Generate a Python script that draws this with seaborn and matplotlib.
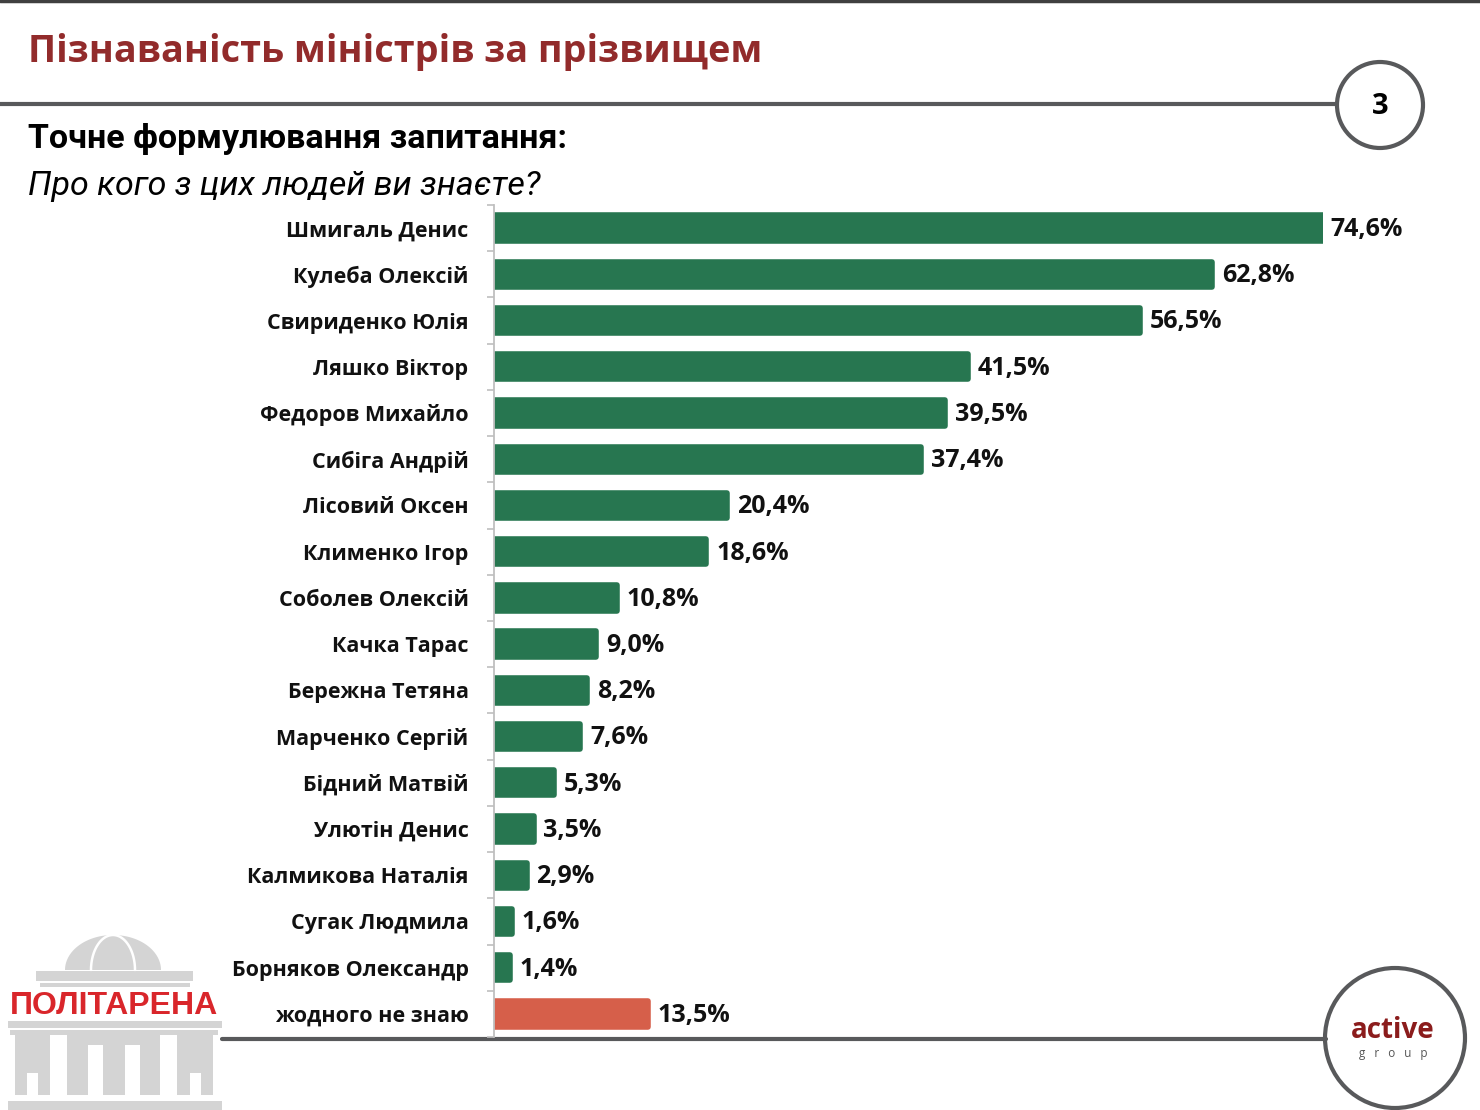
import pandas as pd
import numpy as np
import matplotlib
matplotlib.use("Agg")
import matplotlib.pyplot as plt
import seaborn as sns
from matplotlib.patches import Rectangle, Circle, Polygon

names = [
    "Шмигаль Денис", "Кулеба Олексій", "Свириденко Юлія", "Ляшко Віктор",
    "Федоров Михайло", "Сибіга Андрій", "Лісовий Оксен", "Клименко Ігор",
    "Соболев Олексій", "Качка Тарас", "Бережна Тетяна", "Марченко Сергій",
    "Бідний Матвій", "Улютін Денис", "Калмикова Наталія", "Сугак Людмила",
    "Борняков Олександр", "жодного не знаю",
]
values = [74.6, 62.8, 56.5, 41.5, 39.5, 37.4, 20.4, 18.6, 10.8, 9.0,
          8.2, 7.6, 5.3, 3.5, 2.9, 1.6, 1.4, 13.5]
value_labels = ["74,6%", "62,8%", "56,5%", "41,5%", "39,5%", "37,4%", "20,4%",
                "18,6%", "10,8%", "9,0%", "8,2%", "7,6%", "5,3%", "3,5%",
                "2,9%", "1,6%", "1,4%", "13,5%"]

title = "Пізнаваність міністрів за прізвищем"
question_head = "Точне формулювання запитання:"
question_text = "Про кого з цих людей ви знаєте?"
page_no = "3"

GREEN = "#277650"
RED = "#D65F4A"
DARK = "#58595b"
XMAX = 72.5

sns.set_style("white")
plt.rcParams["font.family"] = ["Open Sans", "DejaVu Sans"]

df = pd.DataFrame({"name": names, "value": values})
colors = [GREEN] * (len(names) - 1) + [RED]

W, H = 1480, 1110
fig = plt.figure(figsize=(W / 100, H / 100), dpi=100)

# decoration layer in pixel coordinates
deco = fig.add_axes([0, 0, 1, 1], zorder=0)
deco.set_xlim(0, W)
deco.set_ylim(H, 0)
deco.axis("off")

ax = fig.add_axes([493.5 / W, 1 - 1037 / H, (1323 - 493.5) / W, (1037 - 205) / H], zorder=2)
ax.patch.set_alpha(0)

sns.barplot(data=df, y="name", x="value", hue="name", palette=colors,
            legend=False, orient="h", width=0.55, saturation=1, ax=ax)
for p, c in zip(ax.patches, colors):
    p.set_edgecolor(c)
    p.set_linewidth(4)
    p.set_joinstyle("round")

ax.set_xlim(0, XMAX)
ax.set_ylim(len(names) - 0.5, -0.5)
ax.set_xlabel("")
ax.set_ylabel("")
ax.set_xticks([])
for s in ["top", "right", "bottom"]:
    ax.spines[s].set_visible(False)
ax.spines["left"].set_color("#bfbfbf")
ax.spines["left"].set_linewidth(1.3)

ax.set_yticks(np.arange(len(names) + 1) - 0.5, minor=True)
ax.tick_params(axis="y", which="minor", length=5, width=1.2, color="#bfbfbf", left=True)
ax.tick_params(axis="y", which="major", length=0, pad=18)
for lab in ax.get_yticklabels():
    lab.set_fontsize(15.5)
    lab.set_fontweight("bold")
    lab.set_color("#111111")

for i, (v, t) in enumerate(zip(values, value_labels)):
    ax.annotate(t, (min(v, XMAX), i), xytext=(5 if v > XMAX else 7, -1),
                textcoords="offset points", va="center", ha="left",
                fontsize=18, fontweight="bold", color="#111111", clip_on=False)

# header
deco.plot([0, W], [1, 1], color="#404040", lw=2.5)
deco.text(28, 52, title, fontsize=27.2, fontweight="bold", color="#922B2B",
          va="center", ha="left")
deco.plot([0, 1337], [104, 104], color=DARK, lw=3)
deco.add_patch(Circle((1380, 105), 43, facecolor="white", edgecolor=DARK, lw=3))
deco.text(1380, 106, page_no, fontsize=21, fontweight="bold", ha="center",
          va="center", color="black")
deco.text(28, 139, question_head, fontsize=24.5, fontweight="bold", ha="left",
          va="center", color="black", family=["Roboto", "DejaVu Sans"])
deco.text(28, 186, question_text, fontsize=24.5, style="italic", ha="left",
          va="center", color="black", family=["Roboto", "DejaVu Sans"])

# footer line and active group badge
deco.plot([222, 1326], [1038.5, 1038.5], color=DARK, lw=3)
deco.add_patch(Circle((1395, 1038), 70, facecolor="white", edgecolor=DARK, lw=3))
deco.text(1393, 1030, "active", fontsize=20, fontweight="bold", color="#8b1c1c",
          ha="center", va="center")
deco.text(1393, 1054, "g   r   o   u   p", fontsize=8.5, color="#555555",
          ha="center", va="center")

# politarena logo
LG = "#d4d4d4"
t = np.linspace(np.pi, 2 * np.pi, 60)
deco.add_patch(Polygon(np.c_[113 + 48 * np.cos(t), 970 + 35 * np.sin(t)],
                       closed=True, facecolor=LG, edgecolor="none"))
deco.plot(113 + 22 * np.cos(t), 970 + 35 * np.sin(t), color="white", lw=1.8)
deco.add_patch(Rectangle((36, 971), 157, 10, facecolor=LG, edgecolor="none"))
deco.add_patch(Rectangle((40, 983), 150, 4, facecolor=LG, edgecolor="none"))
deco.add_patch(Rectangle((8, 1021), 214, 7, facecolor=LG, edgecolor="none"))
deco.add_patch(Rectangle((10, 1030), 208, 5, facecolor=LG, edgecolor="none"))
deco.add_patch(Rectangle((15, 1035), 198, 60, facecolor=LG, edgecolor="none"))
for x0, y0, w, h in [(27, 1073, 11, 22), (50, 1035, 17, 60), (88, 1045, 15, 50),
                     (125, 1045, 15, 50), (160, 1035, 17, 60), (190, 1073, 11, 22)]:
    deco.add_patch(Rectangle((x0, y0), w, h, facecolor="white", edgecolor="none"))
deco.add_patch(Rectangle((8, 1101), 214, 9, facecolor=LG, edgecolor="none"))
deco.text(114, 1006, "ПОЛІТАРЕНА", fontsize=23, fontweight="bold", color="#d9262b",
          ha="center", va="center", family=["Liberation Sans", "DejaVu Sans"])

fig.savefig("out.png", dpi=100)
